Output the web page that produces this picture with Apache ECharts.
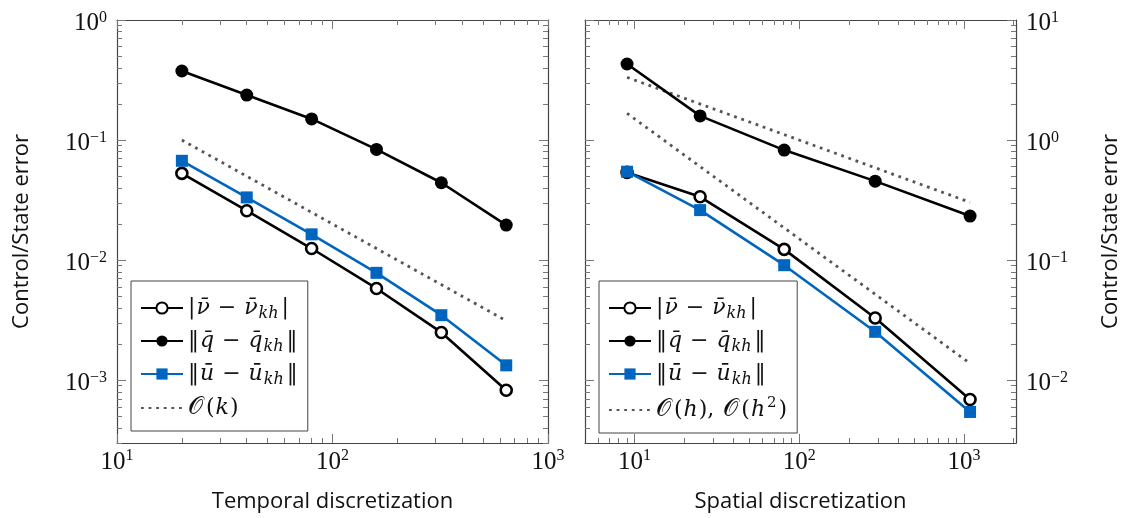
<!DOCTYPE html>
<html><head><meta charset="utf-8">
<script src="https://cdn.jsdelivr.net/npm/echarts@6/dist/echarts.min.js"></script>
<style>html,body{margin:0;padding:0;background:#fff}#c{width:1127px;height:518px}</style>
</head><body><div id="c"></div>
<script>
// ---------- data ----------
const tempX   = [20, 40, 80, 160, 320, 640];
const tempNu  = [0.0528, 0.0258, 0.0125, 0.00581, 0.00250, 0.000825];
const tempQ   = [0.376, 0.237, 0.150, 0.0836, 0.0441, 0.0196];
const tempU   = [0.0672, 0.0333, 0.0164, 0.00784, 0.00348, 0.00133];
const tempRefX = [20, 640];
const tempRefK = [0.1, 0.003125];

const spaceX   = [9, 25, 81, 289, 1089];
const spaceNu  = [0.538, 0.337, 0.123, 0.0330, 0.0069];
const spaceQ   = [4.30, 1.59, 0.825, 0.455, 0.233];
const spaceU   = [0.545, 0.261, 0.0908, 0.0253, 0.00544];
const spaceRefX  = [9, 1089];
const spaceRefH  = [3.33, 0.303];
const spaceRefH2 = [1.67, 0.0138];

// tick labels (decades)
const xTicksTemporal = [10, 100, 1000];
const yTicksLeft     = [0.001, 0.01, 0.1, 1];
const xTicksSpatial  = [10, 100, 1000];
const yTicksRight    = [0.01, 0.1, 1, 10];

const xLabelLeft  = 'Temporal discretization';
const xLabelRight = 'Spatial discretization';
const yLabel      = 'Control/State error';

// ---------- styling ----------
const SERIF = "'Liberation Serif','DejaVu Serif',serif";
const MATH  = "'DejaVu Serif','Liberation Serif',serif";
const SANS  = "'Open Sans','DejaVu Sans',sans-serif";
const BLUE = '#0065bf';
const FRAME = '#444';
const TICKC = '#777';
const DOT = '#555';

function minorTicks(lo, hi) {       // 2..9 x 10^k inside [lo, hi]
  const out = [];
  for (let e = -6; e <= 6; e++) {
    for (let m = 2; m <= 9; m++) {
      const v = m * Math.pow(10, e);
      if (v > lo && v < hi) out.push(+v.toPrecision(3));
    }
  }
  return out;
}
function supLabel(v) {
  const e = Math.round(Math.log10(v));
  return '{b|10}{s|' + (e < 0 ? '\u2212' + (-e) : e) + '}';
}
const labelRich = {
  b: { fontFamily: SERIF, fontSize: 25, color: '#111', lineHeight: 28 },
  s: { fontFamily: SERIF, fontSize: 16, color: '#111', verticalAlign: 'top', lineHeight: 14 }
};

function mkAxis(dim, grid, position, min, max, ticks, len, frame, labels, name, nameGap) {
  const ax = {
    type: 'log', logBase: 10, gridIndex: grid, position: position, min: min, max: max,
    splitLine: { show: false },
    axisLine: { show: frame, lineStyle: { color: FRAME, width: 1.2 } },
    axisTick: { show: true, inside: true, length: len, customValues: ticks,
                lineStyle: { color: TICKC, width: 1 } },
    axisLabel: { show: !!labels },
    minorTick: { show: false }
  };
  if (labels) {
    ax.axisLabel = {
      show: true, customValues: labels, formatter: supLabel, rich: labelRich,
      margin: dim === 'x' ? 5 : 10, padding: dim === 'x' ? 0 : [7, 0, 0, 0]
    };
  }
  if (name) {
    ax.name = name;
    ax.nameLocation = 'middle';
    ax.nameGap = nameGap;
    if (dim === 'y') ax.nameRotate = 90;
    ax.nameTextStyle = { fontFamily: SANS, fontSize: 22, color: '#111' };
  }
  return ax;
}

const L = { xmin: 10, xmax: 1000, ymin: 3.0e-4, ymax: 1 };
const R = { xmin: 5, xmax: 2070, ymin: 3.0e-3, ymax: 10 };

const xAxes = [
  mkAxis('x', 0, 'bottom', L.xmin, L.xmax, xTicksTemporal, 9, true, xTicksTemporal, xLabelLeft, 48),
  mkAxis('x', 0, 'bottom', L.xmin, L.xmax, minorTicks(L.xmin, L.xmax), 5, false),
  mkAxis('x', 0, 'top', L.xmin, L.xmax, xTicksTemporal, 9, true),
  mkAxis('x', 0, 'top', L.xmin, L.xmax, minorTicks(L.xmin, L.xmax), 5, false),
  mkAxis('x', 1, 'bottom', R.xmin, R.xmax, xTicksSpatial, 9, true, xTicksSpatial, xLabelRight, 48),
  mkAxis('x', 1, 'bottom', R.xmin, R.xmax, minorTicks(R.xmin, R.xmax), 5, false),
  mkAxis('x', 1, 'top', R.xmin, R.xmax, xTicksSpatial, 9, true),
  mkAxis('x', 1, 'top', R.xmin, R.xmax, minorTicks(R.xmin, R.xmax), 5, false)
];
const yAxes = [
  mkAxis('y', 0, 'left', L.ymin, L.ymax, yTicksLeft, 9, true, yTicksLeft, yLabel, 84),
  mkAxis('y', 0, 'left', L.ymin, L.ymax, minorTicks(L.ymin, L.ymax), 5, false),
  mkAxis('y', 0, 'right', L.ymin, L.ymax, yTicksLeft, 9, true),
  mkAxis('y', 0, 'right', L.ymin, L.ymax, minorTicks(L.ymin, L.ymax), 5, false),
  mkAxis('y', 1, 'right', R.ymin, R.ymax, yTicksRight, 9, true, yTicksRight, yLabel, 84),
  mkAxis('y', 1, 'right', R.ymin, R.ymax, minorTicks(R.ymin, R.ymax), 5, false),
  mkAxis('y', 1, 'left', R.ymin, R.ymax, yTicksRight, 9, true),
  mkAxis('y', 1, 'left', R.ymin, R.ymax, minorTicks(R.ymin, R.ymax), 5, false)
];

function pairs(xs, ys) { return xs.map((x, i) => [x, ys[i]]); }

function refSeries(name, grid, xs, ys) {
  return {
    name: name, type: 'line', xAxisIndex: grid * 4, yAxisIndex: grid * 4,
    data: pairs(xs, ys), symbol: 'none', z: 2,
    lineStyle: { color: DOT, width: 2.8, type: [2.8, 4.8], cap: 'butt' },
    itemStyle: { color: DOT, opacity: 0 }
  };
}
function nuSeries(name, grid, xs, ys) {
  return {
    name: name, type: 'line', xAxisIndex: grid * 4, yAxisIndex: grid * 4,
    data: pairs(xs, ys), symbol: 'circle', symbolSize: 11, z: 3,
    lineStyle: { color: '#000', width: 2.6 },
    itemStyle: { color: '#fff', borderColor: '#000', borderWidth: 2.6 }
  };
}
function qSeries(name, grid, xs, ys) {
  return {
    name: name, type: 'line', xAxisIndex: grid * 4, yAxisIndex: grid * 4,
    data: pairs(xs, ys), symbol: 'circle', symbolSize: 13, z: 3,
    lineStyle: { color: '#000', width: 2.6 },
    itemStyle: { color: '#000' }
  };
}
function uSeries(name, grid, xs, ys) {
  return {
    name: name, type: 'line', xAxisIndex: grid * 4, yAxisIndex: grid * 4,
    data: pairs(xs, ys), symbol: 'rect', symbolSize: 12, z: 4,
    lineStyle: { color: BLUE, width: 2.6 },
    itemStyle: { color: BLUE }
  };
}

const series = [
  refSeries('refK', 0, tempRefX, tempRefK),
  nuSeries('nu1', 0, tempX, tempNu),
  qSeries('q1', 0, tempX, tempQ),
  uSeries('u1', 0, tempX, tempU),
  refSeries('refH', 1, spaceRefX, spaceRefH),
  refSeries('refH2', 1, spaceRefX, spaceRefH2),
  nuSeries('nu2', 1, spaceX, spaceNu),
  qSeries('q2', 1, spaceX, spaceQ),
  uSeries('u2', 1, spaceX, spaceU)
];

const NUB = '\u03BD\u0304', QB = 'q\u0304', UB = '\u016B', CALO = '\uD835\uDCAA';
const legendText = {
  nu1: '{u||}{i|' + NUB + '}{m|\u2212}{i|' + NUB + '}{sub|kh}{u||}',
  q1:  '{u|\u2016}{i|' + QB + '}{m|\u2212}{i|' + QB + '}{sub|kh}{u|\u2016}',
  u1:  '{u|\u2016}{i|' + UB + '}{m|\u2212}{i|' + UB + '}{sub|kh}{u|\u2016}',
  refK: '{c|' + CALO + '}{u|(}{i|k}{u|)}',
  refH: '{c|' + CALO + '}{u|(}{i|h}{u|),}{sp| }{c|' + CALO + '}{u|(}{i|h}{sup|2}{u|)}'
};
legendText.nu2 = legendText.nu1; legendText.q2 = legendText.q1; legendText.u2 = legendText.u1;
const legendRich = {
  u:   { fontFamily: MATH, fontSize: 22, color: '#111', lineHeight: 28 },
  sp:  { fontFamily: MATH, fontSize: 22, color: '#111', lineHeight: 28, padding: [0, 1, 0, 1] },
  m:   { fontFamily: MATH, fontSize: 22, color: '#111', lineHeight: 28, padding: [0, 7, 0, 7] },
  i:   { fontFamily: MATH, fontSize: 22, fontStyle: 'italic', color: '#111', lineHeight: 28, padding: [0, 1, 0, 1] },
  c:   { fontFamily: MATH, fontSize: 24, color: '#111', lineHeight: 28, padding: [0, 3, 0, 0] },
  sub: { fontFamily: MATH, fontSize: 16, fontStyle: 'italic', color: '#111', lineHeight: 14, verticalAlign: 'bottom', padding: [0, 3, 0, 0] },
  sup: { fontFamily: MATH, fontSize: 15, color: '#111', lineHeight: 14, verticalAlign: 'top', padding: [0, 2, 0, 1] }
};
function mkLegend(left, names) {
  return {
    left: left, top: 281, orient: 'vertical', itemWidth: 42, itemHeight: 14, itemGap: 8,
    padding: [16, 10, 11, 9], borderColor: '#444', borderWidth: 1, backgroundColor: '#fff',
    borderRadius: 0, selectedMode: false,
    data: names.map(n => (n.indexOf('ref') === 0 ? { name: n, itemStyle: { opacity: 0 } } : n)),
    formatter: n => legendText[n], textStyle: { rich: legendRich }
  };
}

const option = {
  animation: false,
  backgroundColor: '#fff',
  grid: [
    { left: 117, top: 20, width: 431, height: 423, containLabel: false },
    { left: 585, top: 20, width: 431, height: 423, containLabel: false }
  ],
  xAxis: xAxes,
  yAxis: yAxes,
  legend: [mkLegend(131, ['nu1', 'q1', 'u1', 'refK']), mkLegend(599, ['nu2', 'q2', 'u2', 'refH'])],
  series: series
};
const chart = echarts.init(document.getElementById('c'), null, { renderer: 'canvas' });
chart.setOption(option);
</script></body></html>
